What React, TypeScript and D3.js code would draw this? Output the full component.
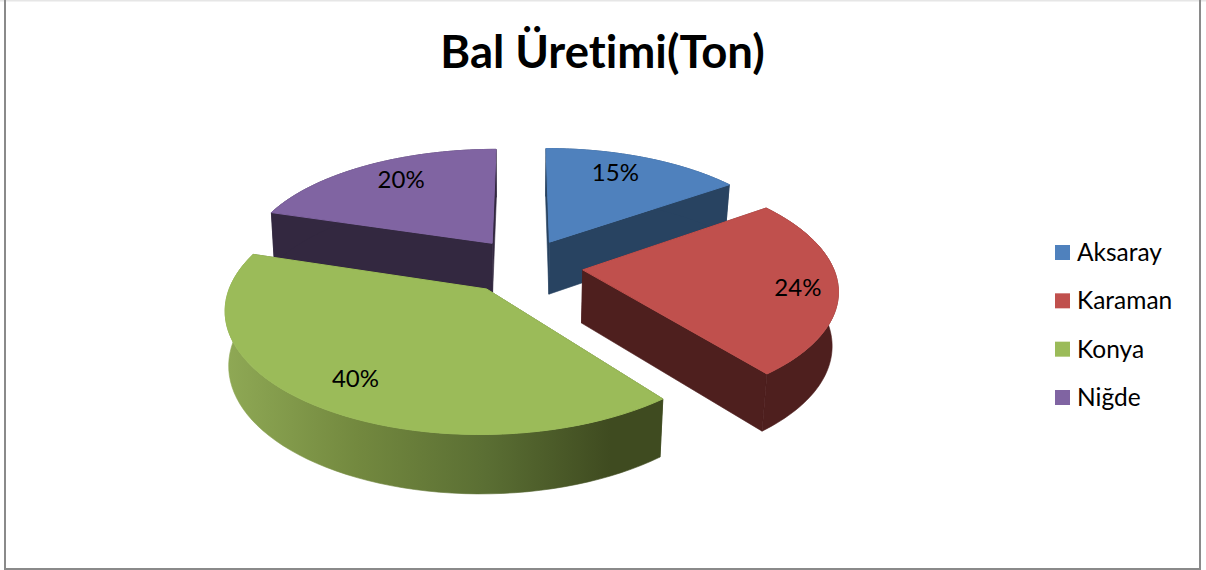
import React from "react";
import * as d3 from "d3";

const title = "Bal Üretimi(Ton)";
const categories = ["Aksaray", "Karaman", "Konya", "Niğde"];
const values = [15, 24, 40, 20];
const labels = ["15%", "24%", "40%", "20%"];
const topColors = ["#4f81bd", "#c0504d", "#9bbb59", "#8064a2"];
const sideColors = ["#284361", "#4e1f1e", "#3f4b20", "#332840"];
const explodeAngles = [27, 98, 216, 328];
const labelAngles = [23.4, 100, 214, 327];
const labelRadii = [0.787, 0.845, 0.793, 0.776];
const drawOrder = [0, 3, 1, 2];

const W = 1206, H = 570;
const cx = 523, cy = 266, R = 250, K = 115, explode = 0.24, depth = 53;
const FONT = "Lato, Carlito, Calibri, sans-serif";
const noLig = { fontVariantLigatures: "none" } as React.CSSProperties;

function project(X: number, Y: number, z = 0): [number, number] {
  const sx = (R * X) / (1 - 0.15 * Y);
  const sy = (K * Y) / (1 - 0.155 * Y);
  const shrink = X < 0 ? 0.012 : 0.02;
  return [cx + sx * (1 - shrink * z), cy + sy + (z * depth) / (1 - 0.09 * Y)];
}

const pie = d3.pie<number>().sort(null).startAngle(0).endAngle(2 * Math.PI);
const arcs = pie(values);
const line = d3.line<[number, number]>();

function offset(i: number): [number, number] {
  const t = (explodeAngles[i] * Math.PI) / 180;
  return [Math.sin(t) * explode, -Math.cos(t) * explode];
}
function rimPts(i: number, z: number): [number, number][] {
  const a = arcs[i];
  const [ex, ey] = offset(i);
  const n = 60;
  return d3.range(n + 1).map((k) => {
    const t = a.startAngle + ((a.endAngle - a.startAngle) * k) / n;
    return project(ex + Math.sin(t), ey - Math.cos(t), z);
  });
}
function apex(i: number, z: number): [number, number] {
  const [ex, ey] = offset(i);
  return project(ex, ey, z);
}
function labelPos(i: number): [number, number] {
  const [ex, ey] = offset(i);
  const t = (labelAngles[i] * Math.PI) / 180;
  const r = labelRadii[i];
  return project(ex + r * Math.sin(t), ey - r * Math.cos(t));
}

export default function App() {
  const legendY = d3.scalePoint<string>().domain(categories).range([252.5, 397.5]);
  return (
    <svg width={W} height={H} style={{ position: "absolute", left: 0, top: 0, background: "#fff" }}>
      <defs>
        <linearGradient id="konyaSide" x1="0" x2="1" y1="0" y2="0">
          <stop offset="0" stopColor="#8fa955" />
          <stop offset="0.3" stopColor="#73893f" />
          <stop offset="0.6" stopColor="#5a6e33" />
          <stop offset="0.88" stopColor="#3f4b20" />
          <stop offset="1" stopColor="#3f4b20" />
        </linearGradient>
      </defs>
      <rect x={0} y={0} width={W} height={1.5} fill="#e6e6e6" />
      <rect x={4} y={0} width={2} height={H} fill="#8a8a8a" />
      <rect x={1199} y={0} width={2} height={H} fill="#8a8a8a" />
      <rect x={4} y={568} width={1197} height={2} fill="#8a8a8a" />
      <text x={602.5} y={68} textAnchor="middle" fontFamily={FONT} fontWeight={700} fontSize={45.5} fill="#000" style={noLig}>
        {title}
      </text>
      {drawOrder.map((i) => {
        const topRim = rimPts(i, 0);
        const botRim = rimPts(i, 1);
        const a0 = apex(i, 0), a1 = apex(i, 1);
        const side = sideColors[i];
        const rimFill = categories[i] === "Konya" ? "url(#konyaSide)" : side;
        return (
          <g key={categories[i]}>
            <path d={line([a0, topRim[0], botRim[0], a1])! + "Z"} fill={side} stroke={side} strokeWidth={0.6} />
            <path d={line([a0, topRim[topRim.length - 1], botRim[botRim.length - 1], a1])! + "Z"} fill={side} stroke={side} strokeWidth={0.6} />
            <path d={line([...topRim, ...botRim.slice().reverse()])! + "Z"} fill={rimFill} stroke={rimFill} strokeWidth={0.6} />
            <path d={line([a0, ...topRim])! + "Z"} fill={topColors[i]} stroke={topColors[i]} strokeWidth={1} />
          </g>
        );
      })}
      {labels.map((l, i) => {
        const [x, y] = labelPos(i);
        return (
          <text key={l} x={x} y={y} dy="0.36em" textAnchor="middle" fontFamily={FONT} fontSize={24} fill="#000">
            {l}
          </text>
        );
      })}
      {categories.map((c, i) => (
        <g key={c}>
          <rect x={1055} y={legendY(c)! - 7.5} width={15} height={15} fill={topColors[i]} />
          <text x={1077} y={legendY(c)!} dy="0.35em" fontFamily={FONT} fontSize={24.5} fill="#000">
            {c}
          </text>
        </g>
      ))}
    </svg>
  );
}
